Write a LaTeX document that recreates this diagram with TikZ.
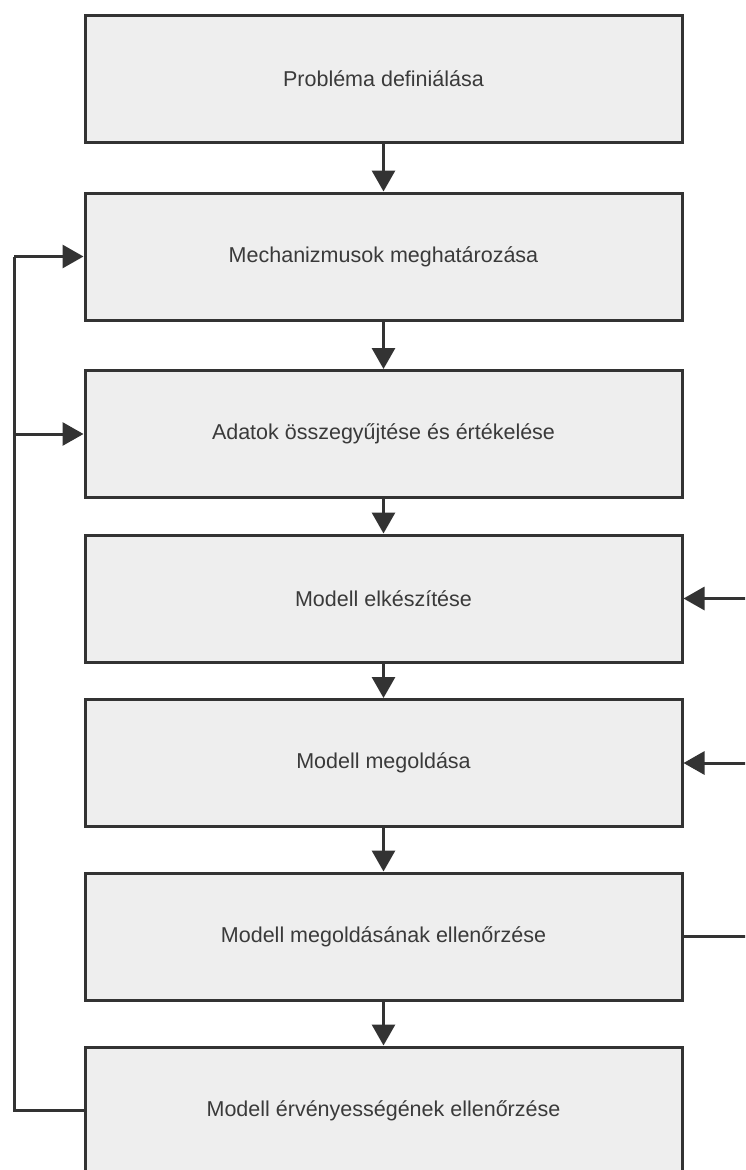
\documentclass[tikz,border=0pt]{standalone}
\usepackage{fontspec}
\setmainfont{Liberation Sans}
\usetikzlibrary{arrows.meta}
\definecolor{boxfill}{HTML}{EEEEEE}
\definecolor{edge}{HTML}{333333}
\definecolor{txt}{HTML}{3A3A3A}
\begin{document}
\begin{tikzpicture}[x=1pt,y=-1pt,
  stepbox/.style={draw=edge, fill=boxfill, line width=3pt, rectangle,
    minimum width=597pt, minimum height=127pt, inner sep=0pt,
    text=txt, font=\fontsize{21.5}{26}\selectfont},
  conn/.style={draw=edge, line width=3pt},
  arr/.style={conn, -{Triangle[length=21pt,width=23pt]}}]
\useasboundingbox (0,0) rectangle (745,1170);
\clip (0,0) rectangle (745,1170);
\fill[white] (0,0) rectangle (745,1170);
\node[stepbox] (b1) at (383.5,78.5) {Probléma definiálása};
\node[stepbox] (b2) at (383.5,256.5) {Mechanizmusok meghatározása};
\node[stepbox] (b3) at (383.5,434) {Adatok összegyűjtése és értékelése};
\node[stepbox] (b4) at (383.5,598.5) {Modell elkészítése};
\node[stepbox] (b5) at (383.5,763) {Modell megoldása};
\node[stepbox] (b6) at (383.5,936.5) {Modell megoldásának ellenőrzése};
\node[stepbox] (b7) at (383.5,1110.5) {Modell érvényességének ellenőrzése};
\draw[arr] (b1) -- (b2);
\draw[arr] (b2) -- (b3);
\draw[arr] (b3) -- (b4);
\draw[arr] (b4) -- (b5);
\draw[arr] (b5) -- (b6);
\draw[arr] (b6) -- (b7);
\coordinate (lb) at (14,1110.5);
\coordinate (lt) at (14,256.5);
\coordinate (lm) at (14,434);
\draw[conn, line join=miter] (b7.west) -- (lb) -- (lt);
\draw[arr] (lt) -- (b2.west);
\draw[arr] (lm) -- (b3.west);
\coordinate (r4) at (750,598.5);
\coordinate (r5) at (750,763);
\coordinate (r6) at (750,936.5);
\draw[arr] (r4) -- (b4.east);
\draw[arr] (r5) -- (b5.east);
\draw[conn, line width=2.5pt] (b6.east) -- (r6);
\end{tikzpicture}
\end{document}
